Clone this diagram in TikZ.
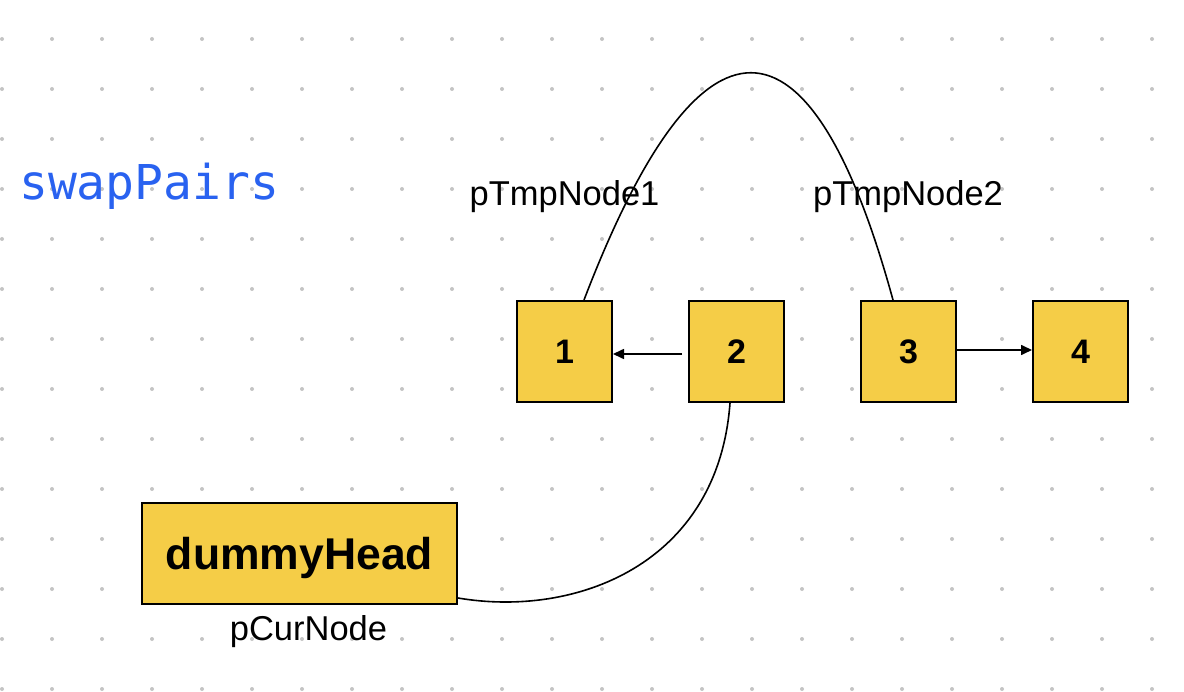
\documentclass[tikz,border=0pt]{standalone}
\usepackage{fontspec}
\setmainfont{Liberation Sans}
\newfontfamily\codefont{DejaVu Sans Mono}
\usetikzlibrary{arrows.meta,calc}
\definecolor{boxyellow}{RGB}{245,205,71}
\definecolor{dotgray}{RGB}{196,196,196}
\definecolor{codeblue}{RGB}{41,98,240}
\tikzset{
  listbox/.style={draw=black, line width=2pt, fill=boxyellow, minimum width=95pt, minimum height=101pt, inner sep=0pt, font=\fontsize{34}{40}\selectfont\bfseries, text depth=0pt},
  headbox/.style={draw=black, line width=2pt, fill=boxyellow, minimum width=315pt, minimum height=101pt, inner sep=0pt, font=\fontsize{44.5}{50}\selectfont\bfseries, text depth=0pt},
  lbl/.style={anchor=base, inner sep=0pt, font=\fontsize{34.5}{40}\selectfont},
  link/.style={line width=1.6pt, -{Triangle[length=11pt,width=10pt]}},
  curve/.style={line width=1.6pt}
}
\begin{document}
\begin{tikzpicture}[x=1pt,y=-1pt]
\useasboundingbox (0,0) rectangle (1184,692);
\fill[white] (0,0) rectangle (1184,692);
% dot grid
\foreach \i in {0,...,23}{
  \foreach \j in {0,...,13}{
    \fill[dotgray] ({2+50*\i},{39+50*\j}) circle[radius=2pt];
  }
}
% title
\node[anchor=base west, inner sep=0pt, text=codeblue, font=\codefont\fontsize{48}{54}\selectfont] (title) at (19,200) {swapPairs};
% boxes
\node[listbox] (b1) at (564.5,351.5) {1};
\node[listbox] (b2) at (736.5,351.5) {2};
\node[listbox] (b3) at (908.5,351.5) {3};
\node[listbox] (b4) at (1080.5,351.5) {4};
\node[headbox] (dh) at (299.5,553.5) {dummyHead};
% labels
\node[lbl] (l1) at (564.5,206) {pTmpNode1};
\node[lbl] (l2) at (908,206) {pTmpNode2};
\node[lbl] (l3) at (308.5,640) {pCurNode};
% connectors
\draw[link] ($(b2.west)+(-6,2.5)$) -- ($(b1.east)+(0,2.5)$);
\draw[link] ($(b3.east)+(0,-1.5)$) -- ($(b4.west)+(0,-1.5)$);
\draw[curve] ($(b1.north)+(19.5,0)$) .. controls (700,-3) and (810,-3) .. ($(b3.north)+(-15.5,0)$);
\draw[curve] ($(b2.south)+(-6.5,0)$) .. controls (718,565) and (575,618) .. ($(dh.south east)+(0,-7)$);
\end{tikzpicture}
\end{document}
